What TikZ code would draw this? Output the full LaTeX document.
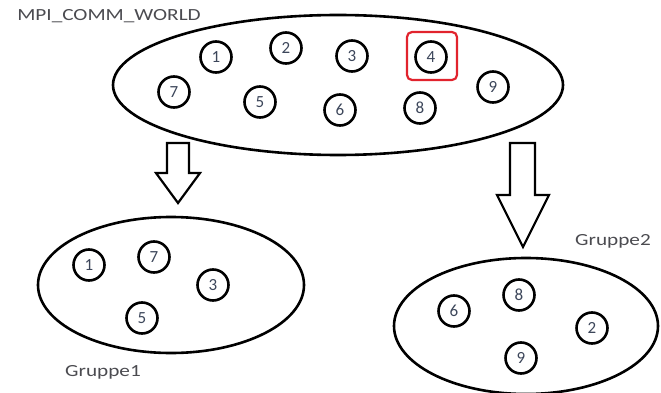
\documentclass[tikz,border=0pt]{standalone}
\usepackage{fontspec}
\setmainfont{Carlito}
\usetikzlibrary{shapes.geometric}
\definecolor{lblgray}{RGB}{75,75,80}
\definecolor{numcol}{RGB}{60,70,90}
\definecolor{boxred}{RGB}{225,35,45}
\tikzset{
  proc/.style={circle,draw=black,line width=2.6pt,minimum size=31pt,inner sep=0pt,
    text=numcol,font=\fontsize{17}{17}\selectfont},
  grp/.style={ellipse,draw=black,line width=2.6pt,inner sep=0pt},
  lbl/.style={text=lblgray,font=\fontsize{17}{17}\selectfont,xscale=1.25,transform shape,inner sep=0pt},
  bigarrow/.style={draw=black,line width=2.2pt,fill=white,line join=miter},
}
\begin{document}
\begin{tikzpicture}[x=1pt,y=-1pt]
\useasboundingbox (0,0) rectangle (661,393);
% top ellipse
\node[grp,minimum width=450pt,minimum height=140pt] (world) at (338,85) {};
\node[lbl,anchor=west] (wl) at (17,16) {MPI\_COMM\_WORLD};
\node[proc] (w1) at (216,57) {1};
\node[proc] (w2) at (286,48) {2};
\node[proc] (w3) at (352,56) {3};
\node[proc] (w4) at (431,57) {4};
\node[proc] (w7) at (174,92) {7};
\node[proc] (w5) at (260,102) {5};
\node[proc] (w6) at (340,110) {6};
\node[proc] (w8) at (420,108) {8};
\node[proc] (w9) at (493,87) {9};
\node[draw=boxred,line width=2.2pt,rounded corners=5pt,minimum width=50pt,minimum height=48pt] (sel) at (432,56) {};
% arrows
\draw[bigarrow] (167,143) -- (189,143) -- (189,173) -- (200,173) -- (178,203) -- (156,173) -- (167,173) -- cycle;
\draw[bigarrow] (510,143) -- (535,143) -- (535,195) -- (549,195) -- (523,247) -- (497,195) -- (510,195) -- cycle;
% group 1
\node[grp,minimum width=266pt,minimum height=136pt] (g1) at (171,285) {};
\node[proc] (a1) at (89,265) {1};
\node[proc] (a7) at (154,257) {7};
\node[proc] (a3) at (213,285) {3};
\node[proc] (a5) at (142,318) {5};
\node[lbl] (g1l) at (103,372) {Gruppe1};
% group 2
\node[grp,minimum width=264pt,minimum height=136pt] (g2) at (526,326) {};
\node[proc] (b6) at (454,311) {6};
\node[proc] (b8) at (519,295) {8};
\node[proc] (b2) at (592,328) {2};
\node[proc] (b9) at (521,358) {9};
\node[lbl] (g2l) at (613,241) {Gruppe2};
\end{tikzpicture}
\end{document}
